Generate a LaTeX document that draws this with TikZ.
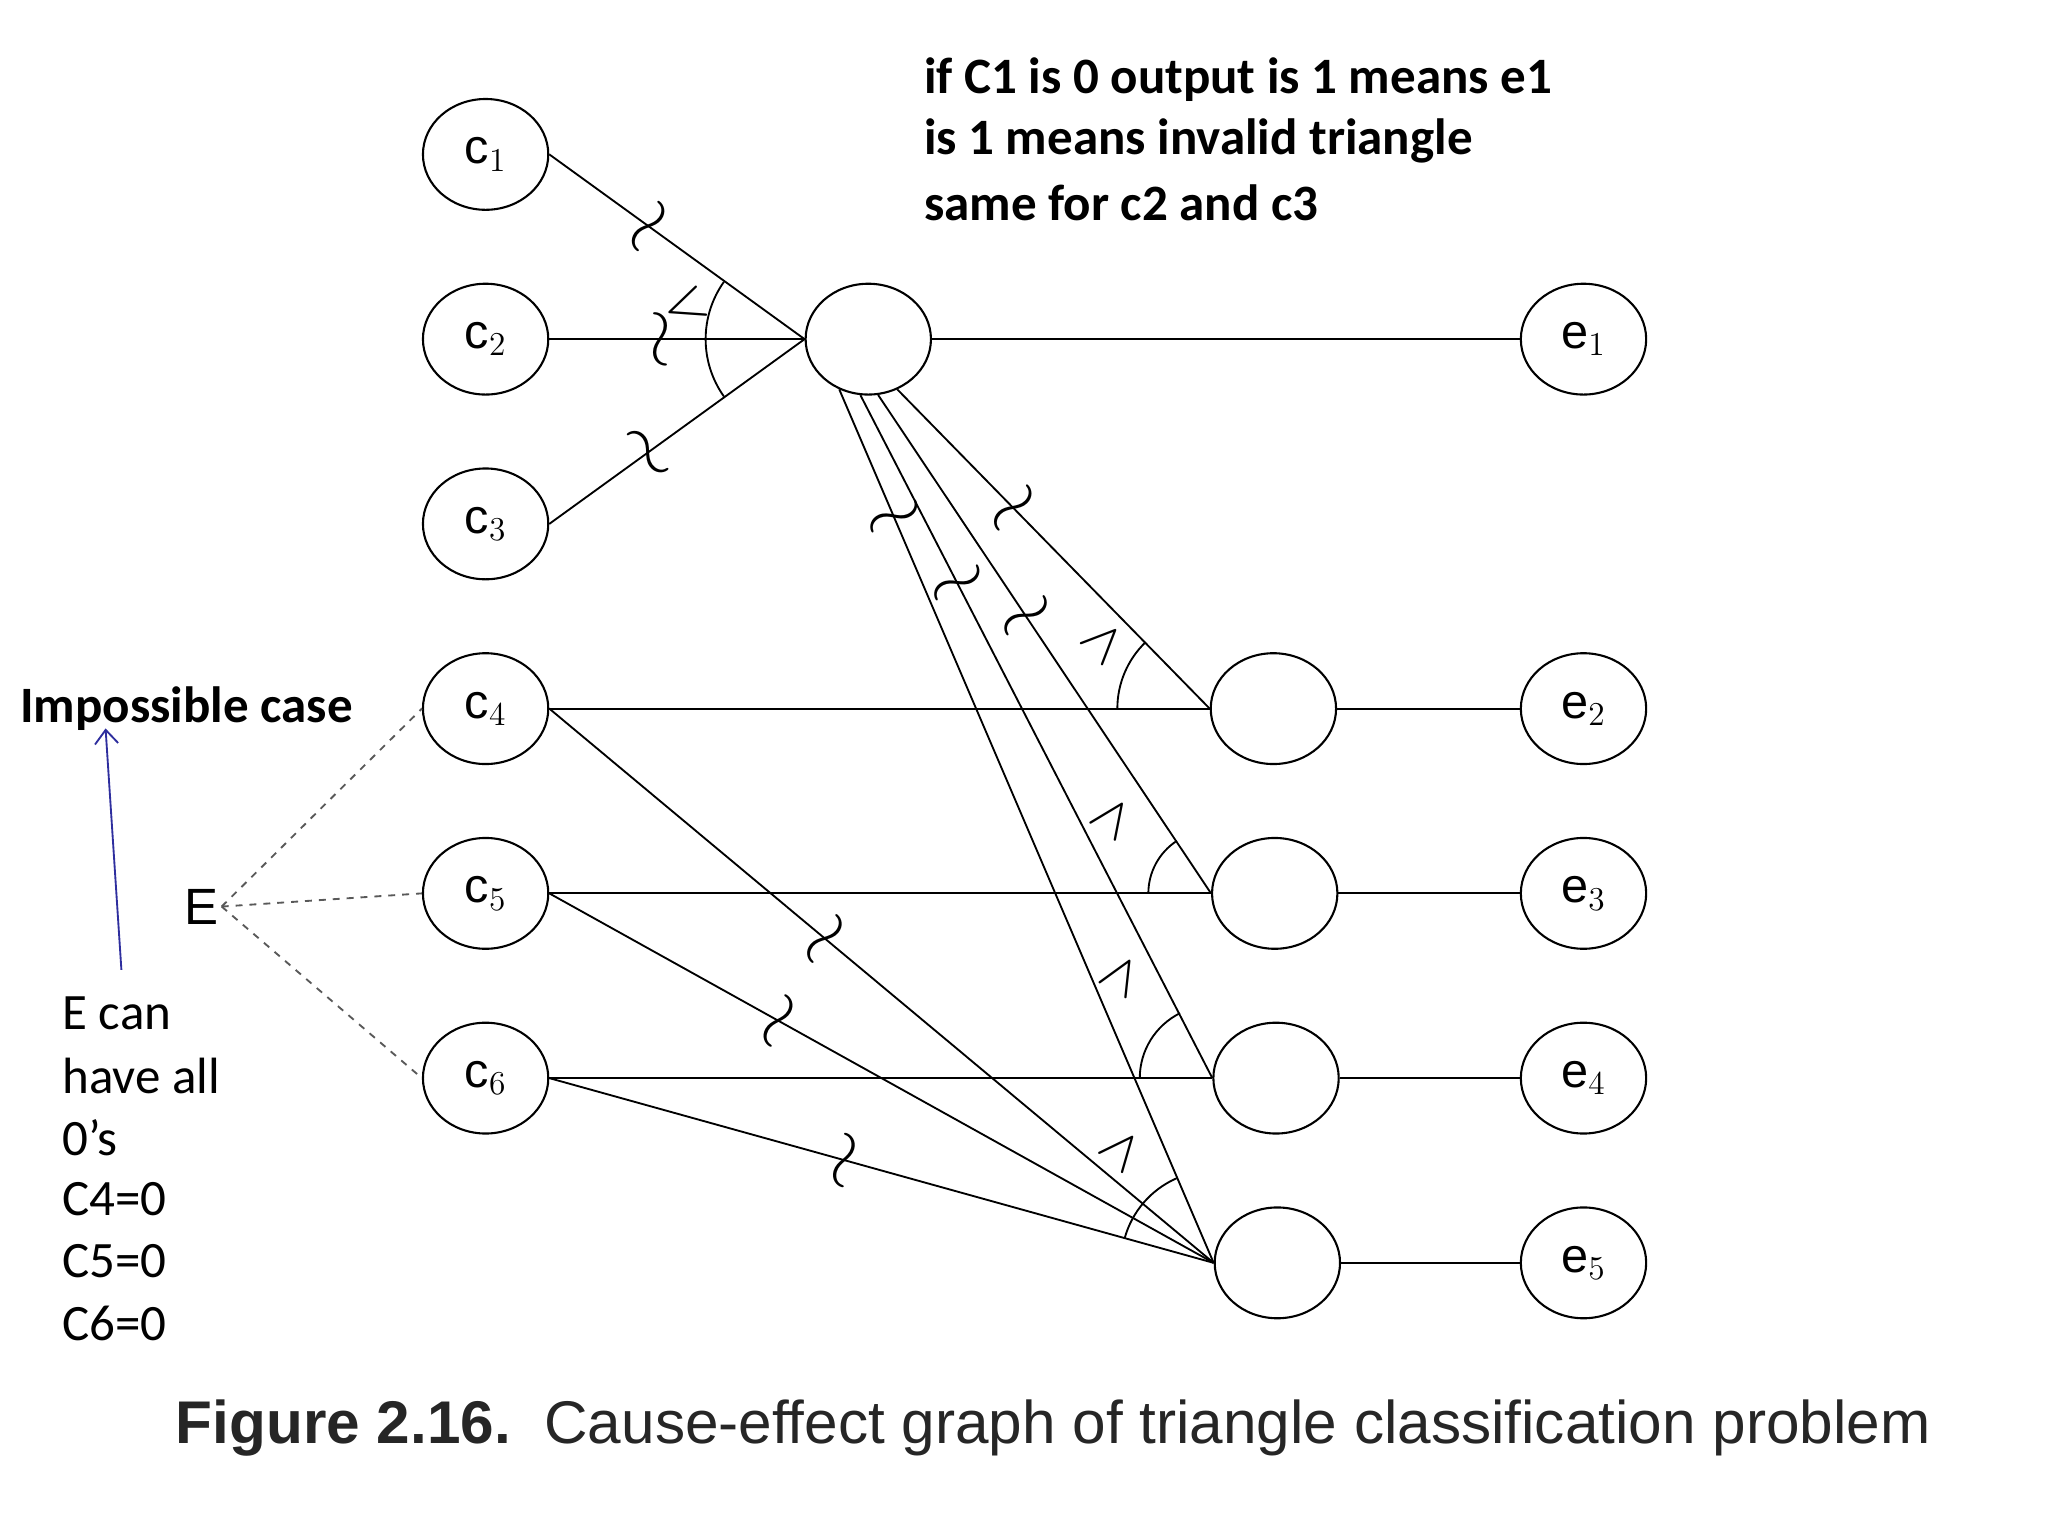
\documentclass[tikz,border=0pt]{standalone}
\usepackage{fontspec}
\usetikzlibrary{shapes.geometric,arrows.meta}
\setmainfont{Liberation Sans}
\newfontfamily\calfont{Carlito}
\newcommand{\ngmark}{\rotatebox{90}{\scalebox{2.0}[1.5]{$\sim$}}}
\begin{document}
\begin{tikzpicture}[x=0.02cm,y=0.02cm,
  nd/.style={draw,ellipse,minimum width=1.9cm,minimum height=1.68cm,inner sep=0pt,font=\fontsize{21}{21}\selectfont,line width=0.9pt},
  ln/.style={line width=0.8pt},
  neg/.style={sloped,font=\fontsize{17}{17}\selectfont,inner sep=0pt},
  op/.style={font=\fontsize{24}{24}\selectfont,inner sep=0pt},
  note/.style={font=\calfont\fontsize{22}{22}\selectfont,anchor=west,inner sep=0pt},
  bnote/.style={note,font=\calfont\bfseries\fontsize{22}{22}\selectfont}]
\useasboundingbox (0,0) rectangle (1552,-1164);
\node[nd] (c1) at (368,-117) {c$_1$};
\node[nd] (c2) at (368,-257) {c$_2$};
\node[nd] (c3) at (368,-397) {c$_3$};
\node[nd] (c4) at (368,-537) {c$_4$};
\node[nd] (c5) at (368,-677) {c$_5$};
\node[nd] (c6) at (368,-817) {c$_6$};
\node[nd] (m1) at (658,-257) {};
\node[nd] (m2) at (965,-537) {};
\node[nd] (m3) at (966,-677) {};
\node[nd] (m4) at (967,-817) {};
\node[nd] (m5) at (968,-957) {};
\foreach \i/\y in {1/257,2/537,3/677,4/817,5/957}
  \node[nd] (e\i) at (1200,-\y) {e$_\i$};
% c -> m1
\draw[ln] (c1.east) -- node[neg,pos=0.4]{\ngmark} (m1.west);
\draw[ln] (c2.east) -- node[neg,pos=0.45]{\ngmark} (m1.west);
\draw[ln] (c3.east) -- node[neg,pos=0.4]{\ngmark} (m1.west);
\draw[ln] (m1.west) ++(144.6:1.5cm) arc (144.6:215.4:1.5cm);
\node[op,rotate=-70] (or1) at (519,-233) {$\vee$};
\draw[ln] (m1) -- (e1);
% m1 -> m2..m5
\draw[ln] (m1.300) -- node[neg,pos=0.38]{\ngmark} (m2.west);
\draw[ln] (m1.280) -- node[neg,pos=0.45]{\ngmark} (m3.west);
\draw[ln] (m1.262) -- node[neg,pos=0.28]{\ngmark} (m4.west);
\draw[ln] (m1.240) -- node[neg,pos=0.15]{\ngmark} (m5.west);
% causes to middle
\draw[ln] (c4.east) -- (m2.west);
\draw[ln] (c5.east) -- (m3.west);
\draw[ln] (c6.east) -- (m4.west);
\draw[ln] (c4.east) -- node[neg,pos=0.42]{\ngmark} (m5.west);
\draw[ln] (c5.east) -- node[neg,pos=0.35]{\ngmark} (m5.west);
\draw[ln] (c6.east) -- node[neg,pos=0.45]{\ngmark} (m5.west);
\foreach \i in {2,3,4,5} \draw[ln] (m\i) -- (e\i);
% and arcs
\draw[ln] (m2.west) ++(134:1.4cm) arc (134:180:1.4cm);
\node[op,rotate=-45] (a2) at (836,-487) {$\wedge$};
\draw[ln] (m3.west) ++(123:0.95cm) arc (123:180:0.95cm);
\node[op,rotate=-35] (a3) at (843,-620) {$\wedge$};
\draw[ln] (m4.west) ++(116.5:1.1cm) arc (116.5:180:1.1cm);
\node[op,rotate=-30] (a4) at (850,-740) {$\wedge$};
\draw[ln] (m5.west) ++(113.6:1.4cm) arc (113.6:164.5:1.4cm);
\node[op,rotate=-40] (a5) at (850,-872) {$\wedge$};
% E
\node[font=\fontsize{22}{22}\selectfont,inner sep=1pt] (E) at (153,-687) {E};
\draw[ln,dashed,gray!70!black] (E.east) -- (c4.west);
\draw[ln,dashed,gray!70!black] (E.east) -- (c5.west);
\draw[ln,dashed,gray!70!black] (E.east) -- (c6.west);
% notes
\node[bnote] (top1) at (700,-60) {if C1 is 0 output is 1 means e1};
\node[bnote] (top2) at (700,-107) {is 1 means invalid triangle};
\node[bnote] (top3) at (700,-154) {same for c2 and c3};
\node[bnote] (imp) at (15,-537) {Impossible case};
\foreach \t [count=\k] in {E can,have all,0’s,C4=0,C5=0,C6=0}
  \node[note] (n\k) at (47,-768-47*\k+47) {\t};
\coordinate (ab) at (92,-735);
\draw[-{Straight Barb[length=6pt,width=10pt]},color=blue!55!gray!80!black,line width=0.8pt] (ab) -- (80,-552);
\node[anchor=west,inner sep=0pt,font=\fontsize{26}{26}\selectfont,color=black!85] (cap) at (133,-1082) {\textbf{Figure 2.16.}\ \ Cause-effect graph of triangle classification problem};
\end{tikzpicture}
\end{document}
